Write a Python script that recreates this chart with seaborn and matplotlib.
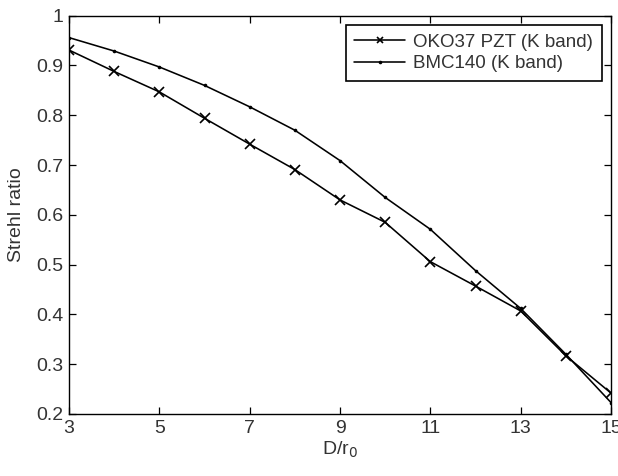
import matplotlib
matplotlib.use("Agg")
import matplotlib.pyplot as plt
import seaborn as sns

# Strehl ratio versus D/r0 for two deformable mirrors (K band)
d_over_r0 = [3, 4, 5, 6, 7, 8, 9, 10, 11, 12, 13, 14, 15]
oko37_pzt = [0.931, 0.888, 0.847, 0.794, 0.742, 0.691, 0.630, 0.585, 0.506, 0.457, 0.407, 0.317, 0.242]
bmc140 = [0.956, 0.929, 0.897, 0.860, 0.817, 0.770, 0.709, 0.635, 0.571, 0.488, 0.412, 0.320, 0.223]
series_names = ["OKO37 PZT (K band)", "BMC140 (K band)"]
x_ticks = [3, 5, 7, 9, 11, 13, 15]
y_ticks = [0.2, 0.3, 0.4, 0.5, 0.6, 0.7, 0.8, 0.9, 1.0]
y_tick_labels = ["0.2", "0.3", "0.4", "0.5", "0.6", "0.7", "0.8", "0.9", "1"]

sns.set_theme(style="white")
plt.rcParams["font.family"] = ["Liberation Sans", "DejaVu Sans"]

fig = plt.figure(figsize=(6.18, 4.76), dpi=100)
ax = fig.add_axes([69 / 618, 1 - 414 / 476, (611 - 69) / 618, (414 - 15.7) / 476])

sns.lineplot(x=d_over_r0, y=oko37_pzt, color="black", marker="x", markersize=6.5,
             markeredgecolor="black", markeredgewidth=1.2, linewidth=1.15,
             label=series_names[0], ax=ax)
sns.lineplot(x=d_over_r0, y=bmc140, color="black", marker="o", markersize=2.6,
             markeredgecolor="black", markeredgewidth=0, linewidth=1.15,
             label=series_names[1], ax=ax)

ax.set_xlim(3, 15)
ax.set_ylim(0.2, 1.0)
ax.set_xticks(x_ticks)
ax.set_xticklabels([str(t) for t in x_ticks])
ax.set_yticks(y_ticks)
ax.set_yticklabels(y_tick_labels)

for spine in ax.spines.values():
    spine.set_visible(True)
    spine.set_color("black")
    spine.set_linewidth(1.0)

ax.tick_params(axis="both", which="both", direction="in", length=5, width=0.9,
               top=True, right=True, bottom=True, left=True,
               labelsize=14, colors="black", pad=4)
for lab in ax.get_xticklabels() + ax.get_yticklabels():
    lab.set_color("#333333")

ax.set_xlabel("D/r$_0$", fontsize=14, color="#333333", labelpad=2)
ax.set_ylabel("Strehl ratio", fontsize=14, color="#333333", labelpad=8)

leg = ax.legend(loc="upper right", fontsize=13.5, frameon=True,
                fancybox=False, edgecolor="black", framealpha=1,
                handlelength=2.7, handletextpad=0.45, borderpad=0.45,
                labelspacing=0.25, borderaxespad=0.5)
leg.get_frame().set_linewidth(1.2)
for h in leg.legend_handles:
    if h.get_marker() == "x":
        h.set_markersize(5)
for t in leg.get_texts():
    t.set_color("#333333")

fig.savefig("out.png", dpi=100)
